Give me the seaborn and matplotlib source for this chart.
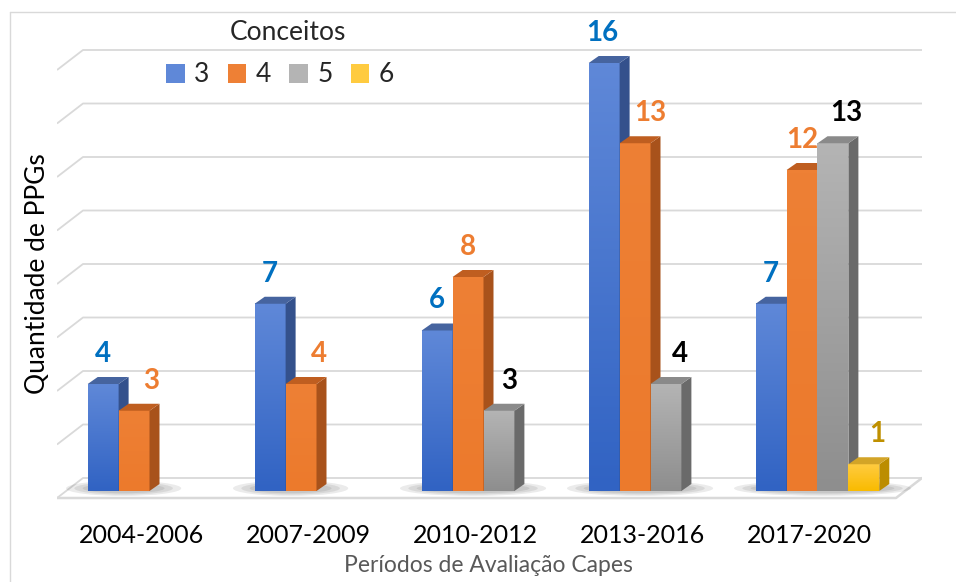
import numpy as np
import pandas as pd
import matplotlib
matplotlib.use("Agg")
import matplotlib.pyplot as plt
import matplotlib.transforms as mtransforms
import seaborn as sns
from matplotlib.patches import Polygon, Patch, Ellipse
from matplotlib.colors import LinearSegmentedColormap
from matplotlib.lines import Line2D

# --- data ---
periods = ["2004-2006", "2007-2009", "2010-2012", "2013-2016", "2017-2020"]
conceitos = ["3", "4", "5", "6"]
conceito_3 = [4, 7, 6, 16, 7]
conceito_4 = [3, 4, 8, 13, 12]
conceito_5 = [None, None, 3, 4, 13]
conceito_6 = [None, None, None, None, 1]
yticks = list(range(0, 17, 2))

rows = []
for c, vals in zip(conceitos, [conceito_3, conceito_4, conceito_5, conceito_6]):
    for p, v in zip(periods, vals):
        if v is not None:
            rows.append({"periodo": p, "conceito": c, "qtd": v})
df = pd.DataFrame(rows)

# --- style ---
sns.set_style("white")
plt.rcParams["font.family"] = ["Lato", "DejaVu Sans"]

front_cols = {"3": ("#3163c3", "#5f88d8"), "4": ("#ec7a2c", "#ee8035"),
              "5": ("#8e8e8e", "#b4b4b4"), "6": ("#f9bb00", "#ffcb40")}
side_cols = {"3": "#34518c", "4": "#a8521b", "5": "#6a6a6a", "6": "#bc8d00"}
top_cols = {"3": "#46649f", "4": "#bf5e20", "5": "#8a8a8a", "6": "#d3a427"}
label_cols = {"3": "#0070C0", "4": "#ED7D31", "5": "black", "6": "#BF9000"}
# horizontal nudges (px) of the value labels, as placed in the original
label_dx = {("2004-2006", "4"): 17, ("2007-2009", "4"): 18, ("2010-2012", "5"): 10,
            ("2013-2016", "3"): -2, ("2013-2016", "4"): 15, ("2013-2016", "5"): 14,
            ("2017-2020", "5"): 13, ("2017-2020", "6"): 13}
grid_col = "#d9d9d9"

PX_X = 167.0   # pixels per category
PX_Y = 26.75   # pixels per unit

fig = plt.figure(figsize=(9.56, 5.82), dpi=100)
ax = fig.add_axes([57 / 956, (582 - 500) / 582, 865 / 956, 480 / 582])

sns.barplot(data=df, x="periodo", y="qtd", hue="conceito", order=periods,
            hue_order=conceitos, width=0.74, saturation=1, errorbar=None,
            palette=[front_cols[c][1] for c in conceitos], legend=False, ax=ax)

# 3D-looking back wall grid and floor
back_dy = 13 / PX_Y
front_dy = -7 / PX_Y
x_front_l = -(149.5 - 57) / PX_X
x_back_l = -(149.5 - 83) / PX_X
x_back_r = (922 - 149.5) / PX_X
x_front_r = (896 - 149.5) / PX_X
for v in yticks:
    ax.plot([x_front_l, x_back_l, x_back_r], [v + front_dy, v + back_dy, v + back_dy],
            color=grid_col, lw=1.3, zorder=1, solid_capstyle="butt")
ax.plot([x_front_l, x_front_r, x_back_r], [front_dy, front_dy, back_dy],
        color=grid_col, lw=1.8, zorder=1)

# soft shadows on the floor, stacked for a blurred look
for i, p in enumerate(periods):
    n = int(df["periodo"].eq(p).sum())
    left = i - 0.37
    right = left + n * 0.185
    for k, grow in enumerate([0.32, 0.22, 0.12]):
        ax.add_patch(Ellipse(((left + right) / 2 + 0.03, 0.1), (right - left) + grow,
                             0.25 + grow, color="black", alpha=0.08, lw=0, zorder=2))

# extrude every seaborn bar
dx = 10 / PX_X
dy = 7 / PX_Y
for i, (c, cont) in enumerate(zip(conceitos, ax.containers)):
    cmap = LinearSegmentedColormap.from_list("g" + c, list(front_cols[c]))
    z = 3 + i * 0.1
    for bar in cont:
        h = bar.get_height()
        if not np.isfinite(h) or h <= 0:
            continue
        x0, w = bar.get_x(), bar.get_width()
        bar.set_visible(False)
        ax.imshow(np.linspace(0, 1, 64).reshape(-1, 1), extent=(x0, x0 + w, 0, h),
                  origin="lower", cmap=cmap, aspect="auto", interpolation="bicubic", zorder=z)
        ax.add_patch(Polygon([(x0 + w, 0), (x0 + w + dx, dy), (x0 + w + dx, h + dy), (x0 + w, h)],
                             closed=True, color=side_cols[c], lw=0, zorder=z + 0.01))
        ax.add_patch(Polygon([(x0, h), (x0 + w, h), (x0 + w + dx, h + dy), (x0 + dx, h + dy)],
                             closed=True, color=top_cols[c], lw=0, zorder=z + 0.02))
        per = periods[int(round(x0 + w / 2 - (i - 1.5) * w))]
        nudge = label_dx.get((per, c), 0) * 0.72
        ax.annotate(f"{int(h)}", xy=(x0 + w / 2, h), xytext=(nudge, 21.6),
                    textcoords="offset points", ha="center", va="center",
                    fontsize=20, fontweight="bold", color=label_cols[c], zorder=10)

ax.set_xlim(x_front_l, x_back_r)
ax.set_ylim(-(500 - 491) / PX_Y, (491 - 20) / PX_Y)
sns.despine(ax=ax, left=True, bottom=True)
ax.set_yticks([])
ax.set_xticks(range(len(periods)))
ax.set_xticklabels(periods, fontsize=18, color="black")
ax.tick_params(axis="x", length=0, pad=17)
shift = mtransforms.ScaledTranslation(-8 / 100, 0, fig.dpi_scale_trans)
for lbl in ax.get_xticklabels():
    lbl.set_transform(lbl.get_transform() + shift)
ax.set_xlabel("")
ax.set_ylabel("")

fig.text(488 / 956, 1 - 566 / 582, "Períodos de Avaliação Capes", ha="center", va="center",
         fontsize=16.5, color="#595959")
fig.text(38 / 956, 1 - 274 / 582, "Quantidade de PPGs", ha="center", va="center",
         rotation=90, fontsize=19, color="black")

# legend
fig.text(288 / 956, 1 - 32 / 582, "Conceitos", ha="center", va="center", fontsize=19)
handles = [Patch(facecolor=front_cols[c][1], edgecolor="none", label=c) for c in conceitos]
fig.legend(handles=handles, loc="center", bbox_to_anchor=(280 / 956, 1 - 75 / 582),
           ncol=4, frameon=False, fontsize=19, handlelength=0.7, handleheight=0.7,
           handletextpad=0.35, columnspacing=0.7)

# chart border
fig.add_artist(Line2D([10 / 956, 10 / 956], [0, 1 - 12 / 582], color=grid_col, lw=1))
fig.add_artist(Line2D([10 / 956, 1], [1 - 12 / 582, 1 - 12 / 582], color=grid_col, lw=1))

fig.savefig("out.png", dpi=100)
